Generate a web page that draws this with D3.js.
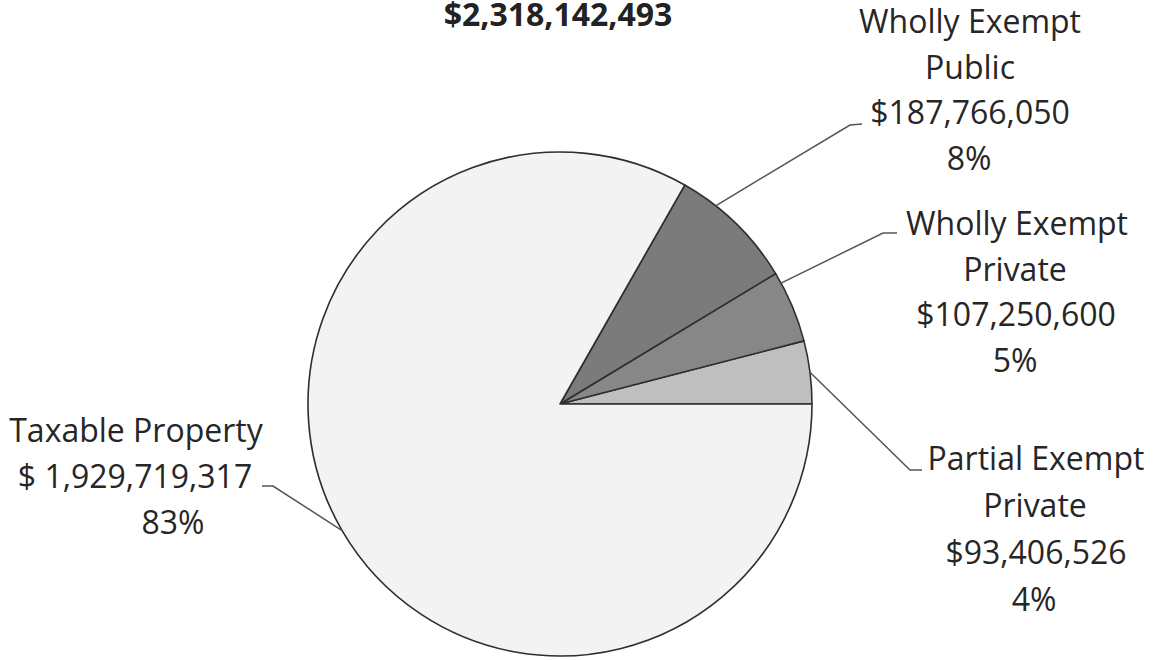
<!DOCTYPE html>
<html>
<head>
<meta charset="utf-8">
<script src="https://cdn.jsdelivr.net/npm/d3@7"></script>
<style>
  html, body { margin: 0; padding: 0; background: #fff; }
  svg { display: block; }
</style>
</head>
<body>
<div id="chart"></div>
<script>
// Data
const categories = ['Partial Exempt Private', 'Wholly Exempt Private', 'Wholly Exempt Public', 'Taxable Property'];
const values = [93406526, 107250600, 187766050, 1929719317];
const valueLabels = ['$93,406,526', '$107,250,600', '$187,766,050', '$ 1,929,719,317'];
const percentLabels = ['4%', '5%', '8%', '83%'];
const nameLines = [['Partial Exempt', 'Private'], ['Wholly Exempt', 'Private'], ['Wholly Exempt', 'Public'], ['Taxable Property']];
const totalLabel = '$2,318,142,493';

// Layout
const width = 1154;
const height = 660;
const cx = 560, cy = 404, radius = 252;
const colors = ['#bfbfbf', '#878787', '#7b7b7b', '#f3f3f3'];

// label placement: x centre per line, first baseline, line gap, leader path (elbow + end), anchor fraction along slice
const labelLayout = [
  { xs: [1036, 1035, 1036, 1034], y: 470, gap: 47, anchor: 0.5, elbow: [910, 470], end: [922, 470] },
  { xs: [1017, 1015, 1016, 1015], y: 235, gap: 45.5, anchor: 0.85, elbow: [883, 233], end: [897, 233] },
  { xs: [970, 970, 970, 969], y: 33, gap: 45.5, anchor: 0.71, elbow: [850, 125], end: [862, 124] },
  { xs: [136, 135, 173], y: 442, gap: 46, anchor: 0.5, elbow: [273, 486], end: [262, 486] }
];

const svg = d3.select('#chart')
  .append('svg')
  .attr('width', width)
  .attr('height', height)
  .attr('viewBox', `0 0 ${width} ${height}`);

svg.append('rect')
  .attr('width', width)
  .attr('height', height)
  .attr('fill', '#fff');

// Pie runs counter-clockwise from 3 o'clock
const pie = d3.pie()
  .sort(null)
  .value(d => d)
  .startAngle(Math.PI / 2)
  .endAngle(Math.PI / 2 - 2 * Math.PI);

const arcs = pie(values);
const arc = d3.arc().innerRadius(0).outerRadius(radius);

const g = svg.append('g').attr('transform', `translate(${cx},${cy})`);

g.selectAll('path.slice')
  .data(arcs)
  .enter()
  .append('path')
  .attr('class', 'slice')
  .attr('d', arc)
  .attr('fill', (d, i) => colors[i])
  .attr('stroke', '#2e2e2e')
  .attr('stroke-width', 1.6)
  .attr('stroke-linejoin', 'round');

// Leader lines
const line = d3.line();
arcs.forEach((d, i) => {
  const lay = labelLayout[i];
  const a = d.startAngle + (d.endAngle - d.startAngle) * lay.anchor;
  const p0 = [cx + radius * Math.sin(a), cy - radius * Math.cos(a)];
  svg.append('path')
    .attr('d', line([p0, lay.elbow, lay.end]))
    .attr('fill', 'none')
    .attr('stroke', '#555')
    .attr('stroke-width', 1.5);
});

// Labels
const textColor = '#262626';
categories.forEach((c, i) => {
  const lay = labelLayout[i];
  const lines = nameLines[i].concat([valueLabels[i], percentLabels[i]]);
  lines.forEach((t, j) => {
    svg.append('text')
      .attr('x', lay.xs[j])
      .attr('y', lay.y + j * lay.gap)
      .attr('text-anchor', 'middle')
      .attr('font-family', '"Open Sans", sans-serif')
      .attr('font-size', '32px')
      .attr('fill', textColor)
      .text(t);
  });
});

// Total (title, sits right at the top edge)
svg.append('text')
  .attr('x', 558)
  .attr('y', 26)
  .attr('text-anchor', 'middle')
  .attr('font-family', '"Open Sans", sans-serif')
  .attr('font-weight', 'bold')
  .attr('font-size', '32px')
  .attr('fill', '#222')
  .text(totalLabel);
</script>
</body>
</html>
